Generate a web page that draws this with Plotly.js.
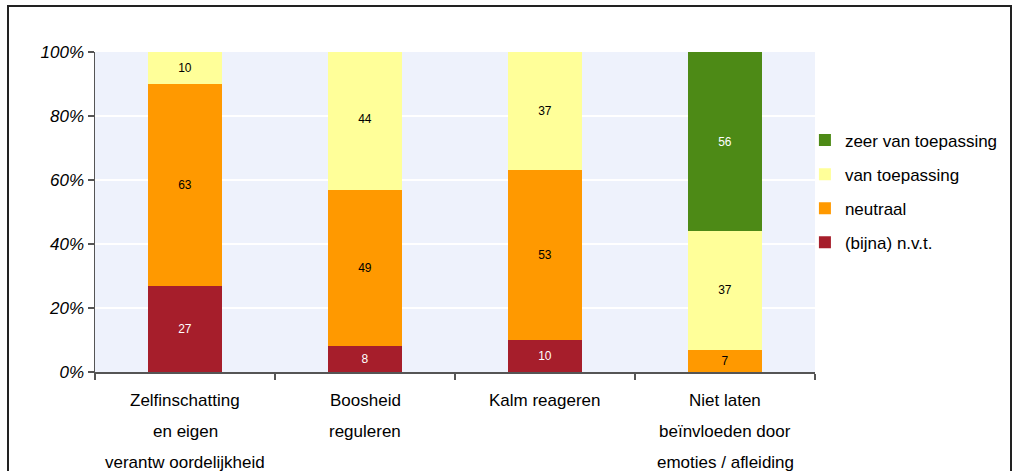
<!DOCTYPE html>
<html><head><meta charset="utf-8">
<script src="https://cdn.plot.ly/plotly-3.0.1.min.js"></script>
<style>
html,body{margin:0;padding:0;background:#fff;}
#wrap{position:relative;width:1019px;height:471px;overflow:hidden;}
#chart{position:absolute;left:0;top:0;width:1019px;height:471px;}
#frame{position:absolute;left:7px;top:5px;width:1001px;height:480px;border:2px solid #222;pointer-events:none;}
</style></head>
<body><div id="wrap"><div id="chart"></div><div id="frame"></div></div>
<script>
const categories = [
  "Zelfinschatting|en eigen|verantw oordelijkheid",
  "Boosheid|reguleren",
  "Kalm reageren",
  "Niet laten|beïnvloeden door|emoties / afleiding"
];
const catKeys = ["c1","c2","c3","c4"];
const seriesNames = ["(bijna) n.v.t.", "neutraal", "van toepassing", "zeer van toepassing"];
const bijnaNvt = [27, 8, 10, 0];
const neutraal = [63, 49, 53, 7];
const vanToepassing = [10, 44, 37, 37];
const zeerVanToepassing = [0, 0, 0, 56];
const yTicks = [0, 20, 40, 60, 80, 100];
const yTickLabels = ["0%", "20%", "40%", "60%", "80%", "100%"];

const colors = ["#A61E2B", "#FF9900", "#FFFF99", "#4D8A16"];
const textColors = ["#ffffff", "#000000", "#000000", "#ffffff"];
const allSeries = [bijnaNvt, neutraal, vanToepassing, zeerVanToepassing];

const traces = allSeries.map((vals, i) => ({
  type: "bar",
  name: seriesNames[i],
  legendgroup: "g" + i,
  legendrank: 10 - i,
  x: catKeys,
  y: vals,
  text: vals.map(v => v ? String(v) : ""),
  textposition: "inside",
  insidetextanchor: "middle",
  textangle: 0,
  textfont: {family: "Liberation Sans, Arial, sans-serif", size: 12, color: textColors[i]},
  marker: {color: colors[i], line: {width: 0}},
  hoverinfo: "skip"
}));

const annotations = [];
categories.forEach((c, i) => {
  c.split("|").forEach((line, j) => {
    annotations.push({
      x: catKeys[i], xref: "x", y: 0, yref: "paper",
      yanchor: "middle", xanchor: "center",
      yshift: -28 - 31 * j,
      text: line, showarrow: false,
      font: {family: "Liberation Sans, Arial, sans-serif", size: 17, color: "#000"}
    });
  });
});

const layout = {
  width: 1019, height: 471,
  margin: {l: 95, r: 204, t: 52, b: 99},
  paper_bgcolor: "#ffffff",
  plot_bgcolor: "#EEF2FC",
  barmode: "stack",
  bargap: 0.59,
  showlegend: true,
  legend: {
    x: 0.986, xanchor: "left", y: 0.564, yanchor: "middle",
    traceorder: "grouped", tracegroupgap: 9,
    font: {family: "Liberation Sans, Arial, sans-serif", size: 17, color: "#000"},
    bgcolor: "rgba(0,0,0,0)"
  },
  xaxis: {
    type: "category",
    showticklabels: false,
    showgrid: false,
    showline: true, linecolor: "#555", linewidth: 1.5,
    ticks: "outside", tickson: "boundaries", ticklen: 6, tickcolor: "#555", tickwidth: 1.5,
    fixedrange: true
  },
  yaxis: {
    range: [0, 100],
    tickvals: yTicks, ticktext: yTickLabels,
    showgrid: true, gridcolor: "#ffffff", gridwidth: 1.5,
    showline: true, linecolor: "#555", linewidth: 1.5,
    ticks: "outside", ticklen: 6, tickcolor: "#555", tickwidth: 1.5,
    zeroline: false,
    tickfont: {family: "Liberation Sans, Arial, sans-serif", size: 17, color: "#000", style: "italic"},
    fixedrange: true
  },
  annotations: annotations
};

Plotly.newPlot("chart", traces, layout, {displayModeBar: false, staticPlot: true});
</script></body></html>
